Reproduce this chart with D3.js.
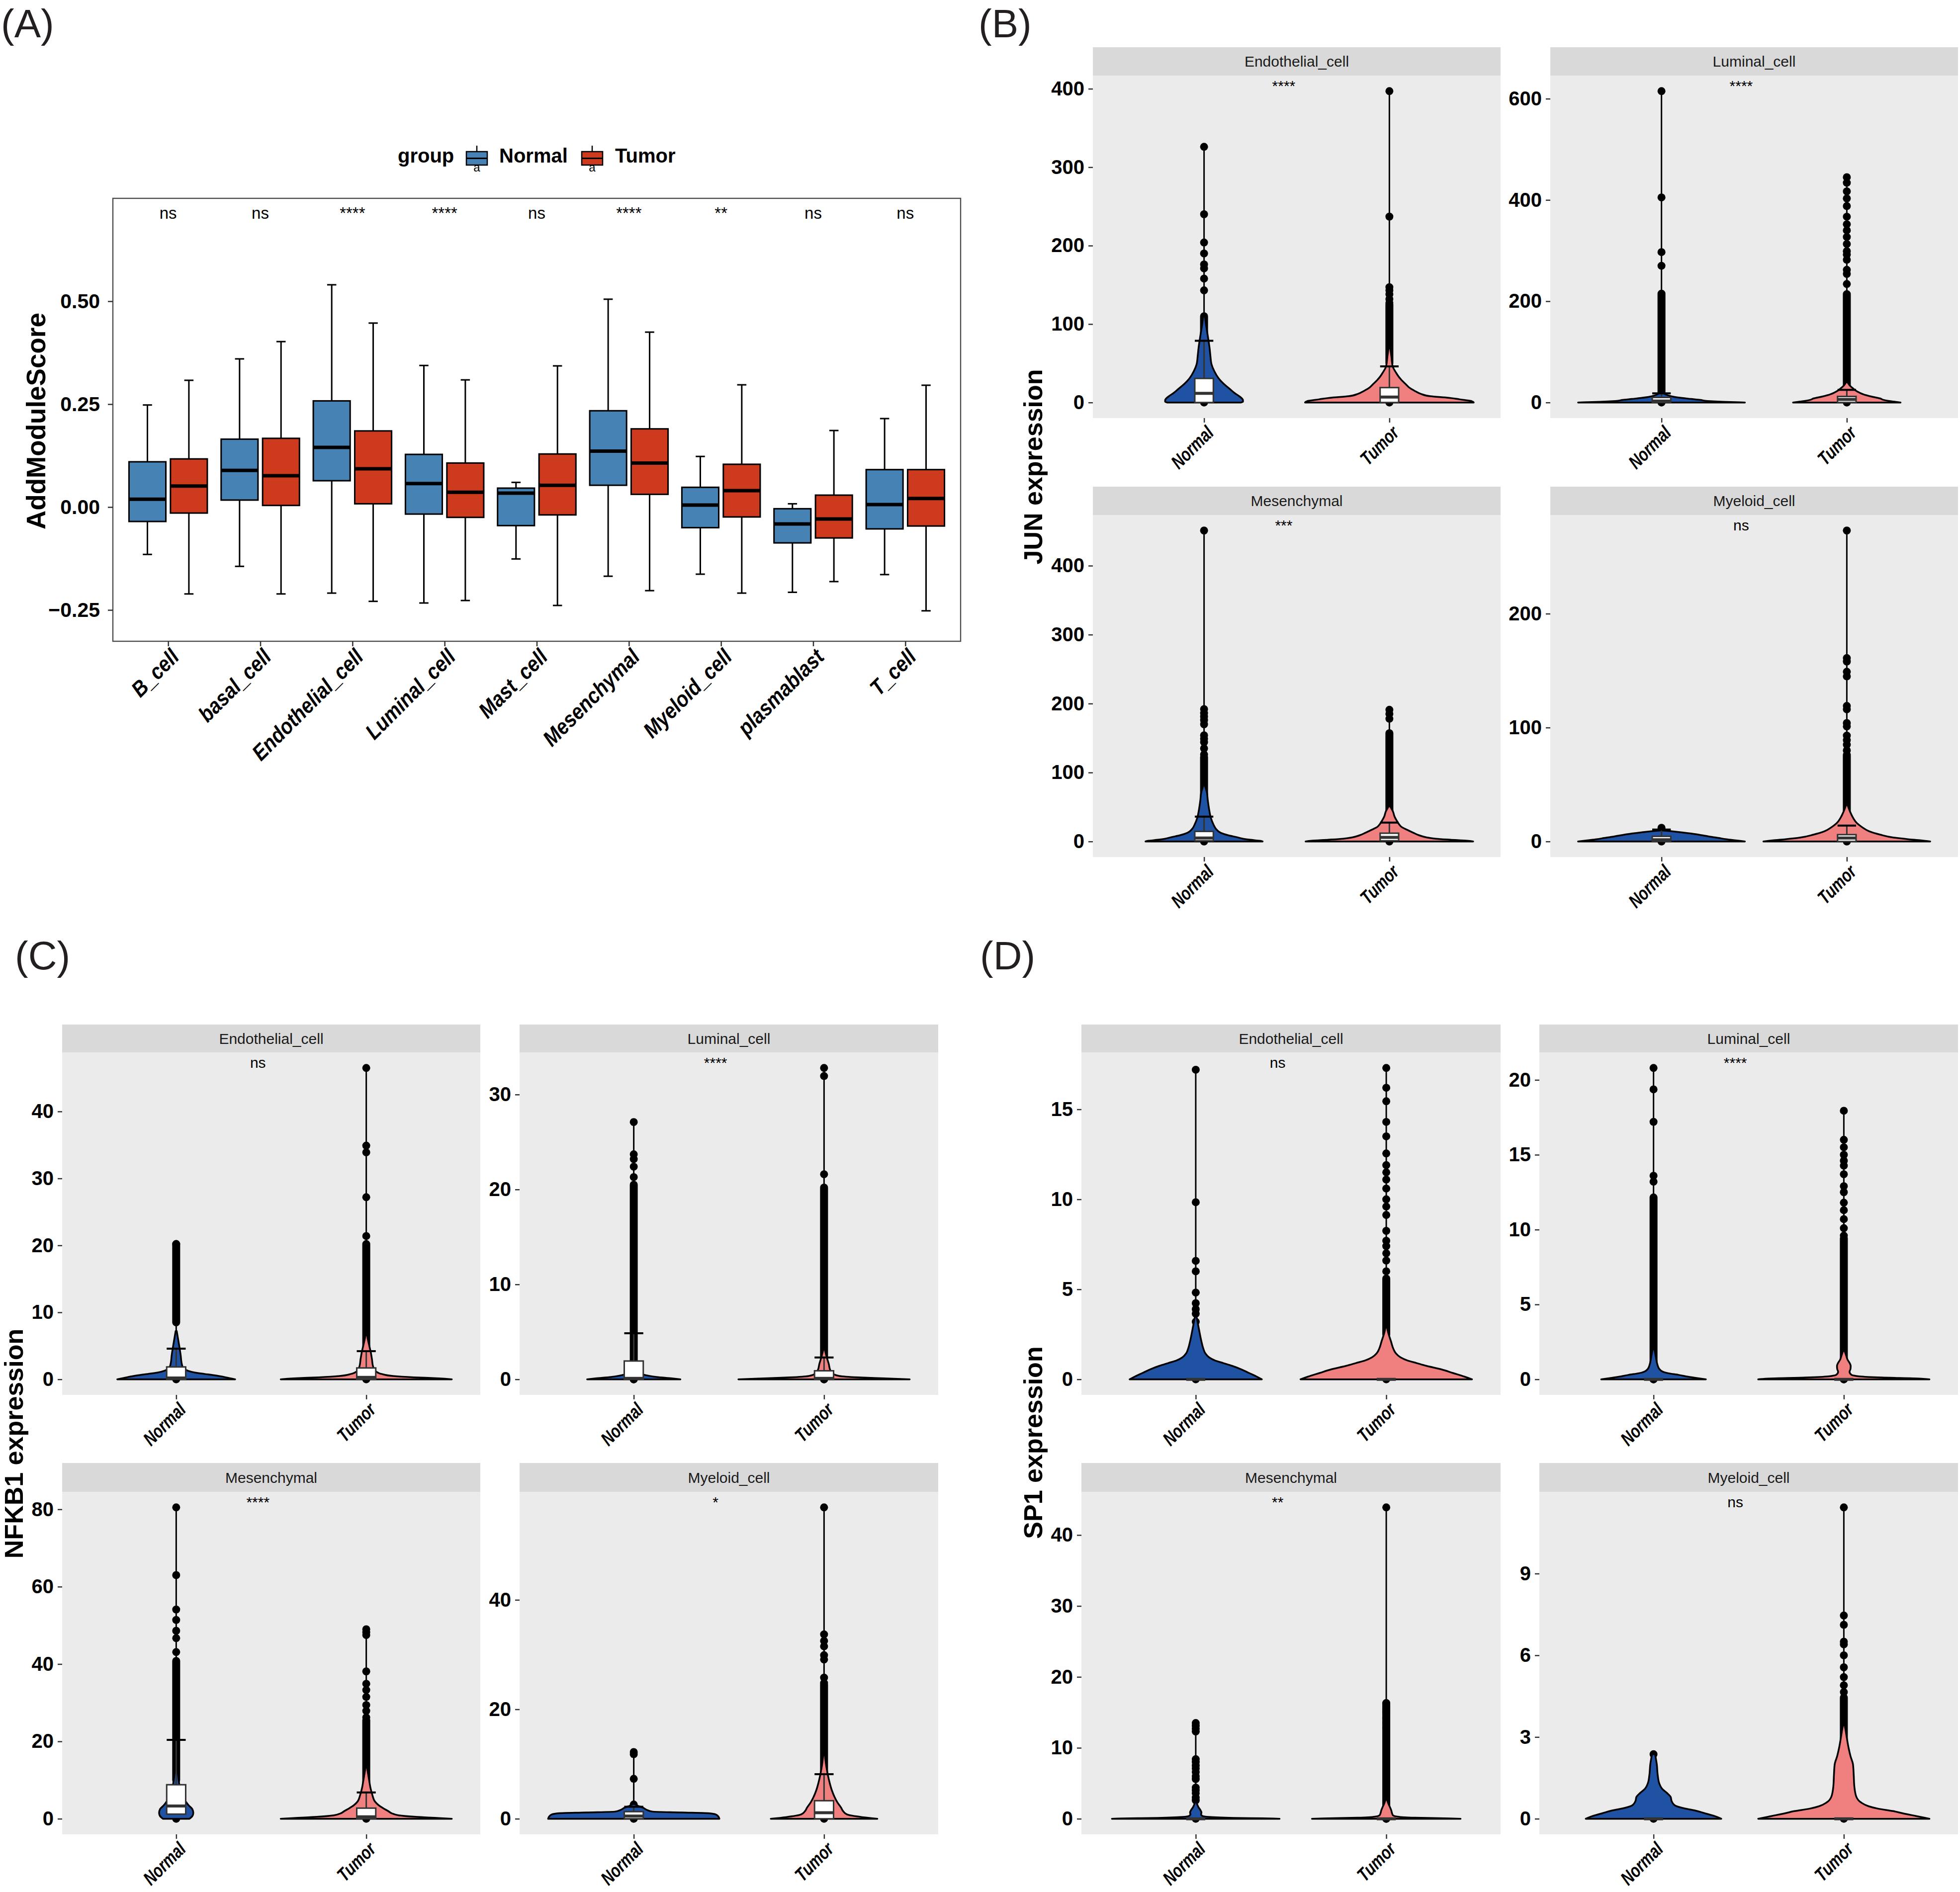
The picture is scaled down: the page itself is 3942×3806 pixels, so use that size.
<!DOCTYPE html>
<html><head><meta charset="utf-8">
<script src="https://cdn.jsdelivr.net/npm/d3@7"></script>
<style>html,body{margin:0;padding:0;background:#fff;}svg{display:block;}</style>
</head><body>
<script>
// ================= DATA =================
// ---- Panel A ----
const cellTypes = ["B_cell","basal_cell","Endothelial_cell","Luminal_cell","Mast_cell","Mesenchymal","Myeloid_cell","plasmablast","T_cell"];
const groups = ["Normal","Tumor"];
const yTicksA = [-0.25, 0, 0.25, 0.5];
// [lower whisker, q1, median, q3, upper whisker]
const normalBoxA = [
  [-0.115,-0.035,0.019,0.110,0.248],
  [-0.144,0.017,0.089,0.165,0.360],
  [-0.209,0.064,0.145,0.258,0.540],
  [-0.233,-0.017,0.057,0.128,0.344],
  [-0.126,-0.045,0.034,0.046,0.060],
  [-0.168,0.053,0.136,0.234,0.505],
  [-0.163,-0.050,0.005,0.048,0.123],
  [-0.207,-0.087,-0.041,-0.004,0.008],
  [-0.164,-0.053,0.006,0.091,0.215]
];
const tumorBoxA = [
  [-0.211,-0.0145,0.051,0.117,0.308],
  [-0.211,0.004,0.076,0.167,0.402],
  [-0.229,0.008,0.093,0.185,0.447],
  [-0.227,-0.025,0.036,0.107,0.309],
  [-0.239,-0.019,0.053,0.129,0.343],
  [-0.203,0.031,0.107,0.190,0.425],
  [-0.209,-0.024,0.040,0.104,0.297],
  [-0.181,-0.075,-0.029,0.029,0.186],
  [-0.252,-0.046,0.021,0.091,0.296]
];
const sigA = ["ns","ns","****","****","ns","****","**","ns","ns"];

// ---- Panels B-D (facets) ----
const facetNames = ["Endothelial_cell","Luminal_cell","Mesenchymal","Myeloid_cell"];

// JUN (B)
const junSig = ["****","****","***","ns"];
const junTicks = [[0,100,200,300,400],[0,200,400,600],[0,100,200,300,400],[0,100,200]];
// violin outline: [value, half-width in category units]
const junNormalShape = [
  [[0,0.2],[1,0.21],[3,0.21],[8,0.19],[12,0.165],[17,0.14],[24,0.105],[31,0.078],[40,0.055],[49,0.04],[60,0.034],[69,0.03],[85,0.02],[100,0.01],[113,0.003]],
  [[0,0.45],[0.5,0.42],[1.5,0.33],[3,0.25],[5,0.21],[7,0.16],[9,0.11],[11,0.07],[14,0.035],[18,0.012],[22,0.003]],
  [[0,0.316],[1,0.3],[2.5,0.25],[4,0.21],[6,0.18],[9,0.13],[12.5,0.09],[18,0.065],[25,0.05],[35,0.036],[47,0.027],[60,0.02],[70,0.016],[82,0.003]],
  [[0,0.45],[1,0.4],[2,0.35],[3,0.31],[4,0.27],[5,0.235],[6,0.2],[7,0.16],[8,0.11],[9,0.05],[9.6,0.01]]
];
const junTumorShape = [
  [[0,0.455],[1,0.45],[2,0.44],[4,0.38],[6,0.32],[8,0.22],[11,0.17],[15,0.135],[19,0.107],[23,0.09],[27,0.072],[33,0.05],[38,0.036],[46,0.018],[60,0.01],[70,0.004]],
  [[0,0.29],[1,0.27],[3,0.23],[5,0.2],[8,0.18],[12,0.13],[16,0.09],[22,0.055],[28,0.033],[34,0.015],[40,0.004]],
  [[0,0.452],[1,0.42],[2.5,0.33],[4,0.25],[6,0.2],[9,0.16],[12.5,0.13],[17,0.095],[21,0.066],[25,0.052],[30,0.04],[36,0.028],[43,0.02],[51,0.004]],
  [[0,0.45],[1,0.4],[2,0.33],[3.5,0.25],[6,0.18],[9,0.12],[12.5,0.083],[16,0.055],[21,0.033],[26,0.018],[32,0.004]]
];
const junNormalPoints = [
  [326,240,204,190,176,171,158,143,0],
  [615,405,297,270,0],
  [451,192,186,181,176,170,154,149,144,135,126,0],
  [12,11,0]
];
const junTumorPoints = [
  [397,237,147,143,138,132,127,0],
  [445,434,417,403,388,367,352,340,327,313,299,292,282,262,254,234,0],
  [191,185,178,0],
  [273,161,158,149,145,119,116,104,101,93,89,85,80,0]
];
const junNormalDense = [[[75,110]],[[15,215]],[[40,122]],[]];
const junTumorDense = [[[50,125]],[[20,214]],[[30,157]],[[20,76]]];
// [q1, median, q3, upper bar]
const junNormalBox = [[0,11.7,30.7,78.7],[0,3,10,18],[1,5,14.6,36],[0,1.5,4.5,10.5]];
const junTumorBox = [[0,7,19,46],[0,6,12,25],[1,6,12,27.4],[0,3,6,14]];

// NFKB1 (C)
const nfkbSig = ["ns","****","****","*"];
const nfkbTicks = [[0,10,20,30,40],[0,10,20,30],[0,20,40,60,80],[0,20,40]];
const nfkbNormalShape = [
  [[0,0.31],[0.3,0.26],[0.6,0.2],[0.8,0.15],[1.0,0.1],[1.3,0.06],[1.8,0.035],[2.5,0.028],[3.5,0.024],[5,0.016],[6,0.01],[7.2,0.003]],
  [[0,0.245],[0.1,0.2],[0.25,0.12],[0.5,0.05],[0.8,0.025],[1.2,0.015],[2,0.008],[3,0.003]],
  [[0,0.07],[0.7,0.085],[1.5,0.09],[2.5,0.085],[3.5,0.065],[4.5,0.05],[6,0.032],[8,0.02],[10,0.013],[13,0.006],[15,0.002]],
  [[0,0.45],[0.4,0.445],[0.8,0.43],[1.0,0.4],[1.15,0.25],[1.3,0.1],[1.6,0.07],[2.0,0.05],[2.4,0.02],[2.7,0.005]]
];
const nfkbTumorShape = [
  [[0,0.45],[0.15,0.38],[0.3,0.25],[0.5,0.14],[0.8,0.08],[1.2,0.05],[2,0.035],[3,0.03],[4,0.024],[5,0.016],[6,0.008],[7,0.002]],
  [[0,0.45],[0.08,0.35],[0.2,0.18],[0.35,0.08],[0.6,0.045],[1,0.032],[1.6,0.025],[2.2,0.016],[2.8,0.008],[3.3,0.002]],
  [[0,0.45],[0.2,0.38],[0.5,0.26],[0.9,0.17],[1.4,0.135],[2,0.115],[2.7,0.09],[3.5,0.065],[4.5,0.045],[6,0.033],[8,0.022],[10,0.015],[12,0.008],[14,0.002]],
  [[0,0.28],[0.3,0.2],[0.8,0.12],[1.4,0.1],[2,0.09],[3,0.07],[4,0.055],[5.3,0.04],[6.5,0.03],[8,0.02],[10,0.01],[12.5,0.002]]
];
const nfkbNormalPoints = [[20.2,0],[27.1,23.7,23.2,22.4,21.3,0],[80.5,63,54.1,51.4,48.6,46.7,43.1,0],[12.2,11.8,7.3,2.6,0]];
const nfkbTumorPoints = [[46.5,34.9,33.9,27.2,21.4,0],[32.8,31.95,21.6,0],[49,48.2,47.5,38.1,34.9,33.3,31.5,29.4,27.9,26.2,0],[56.9,33.7,32.5,31.5,29.9,29.1,25.8,24.8,0]];
const nfkbNormalDense = [[[8.5,20.2]],[[0,20.5]],[[10,40.8]],[]];
const nfkbTumorDense = [[[5,20.2]],[[0,20.2]],[[3,25.5]],[[4,24.5]]];
const nfkbNormalBox = [[0,0.2,1.85,4.57],[0,0.1,1.93,4.85],[1.2,3.3,8.8,20.4],[0,0.5,1.3,2.2]];
const nfkbTumorBox = [[0,0.3,1.7,4.2],[0,0.1,0.9,2.3],[0,0.5,2.75,6.8],[0,1.1,3.3,8.15]];

// SP1 (D)
const sp1Sig = ["ns","****","**","ns"];
const sp1Ticks = [[0,5,10,15],[0,5,10,15,20],[0,10,20,30,40],[0,3,6,9]];
const sp1NormalShape = [
  [[0,0.347],[0.15,0.32],[0.35,0.28],[0.55,0.24],[0.75,0.19],[0.9,0.145],[1.05,0.1],[1.22,0.07],[1.45,0.05],[1.7,0.04],[2.1,0.03],[2.5,0.022],[3,0.013],[3.5,0.004]],
  [[0,0.275],[0.1,0.22],[0.2,0.17],[0.3,0.13],[0.4,0.08],[0.5,0.05],[0.7,0.03],[1,0.02],[1.5,0.012],[2,0.005]],
  [[0,0.44],[0.05,0.38],[0.12,0.2],[0.25,0.07],[0.4,0.035],[0.6,0.028],[0.9,0.03],[1.2,0.025],[1.6,0.015],[2.0,0.008],[2.5,0.002]],
  [[0,0.356],[0.1,0.32],[0.2,0.27],[0.3,0.22],[0.4,0.15],[0.5,0.11],[0.65,0.095],[0.8,0.09],[0.95,0.07],[1.1,0.045],[1.3,0.03],[1.6,0.022],[2,0.017],[2.37,0.008]]
];
const sp1TumorShape = [
  [[0,0.45],[0.15,0.41],[0.35,0.35],[0.55,0.29],[0.75,0.21],[0.9,0.16],[1.05,0.11],[1.22,0.075],[1.45,0.05],[1.7,0.037],[2.1,0.025],[2.6,0.01],[3,0.002]],
  [[0,0.45],[0.05,0.4],[0.12,0.2],[0.2,0.08],[0.3,0.04],[0.5,0.03],[0.7,0.035],[0.9,0.036],[1.1,0.03],[1.3,0.02],[1.6,0.012],[1.9,0.004]],
  [[0,0.39],[0.05,0.33],[0.15,0.15],[0.3,0.06],[0.5,0.035],[0.8,0.03],[1.2,0.026],[1.6,0.02],[2,0.013],[2.5,0.006],[2.9,0.002]],
  [[0,0.45],[0.1,0.38],[0.2,0.31],[0.28,0.26],[0.37,0.18],[0.46,0.13],[0.6,0.09],[0.82,0.065],[1.2,0.055],[1.6,0.052],[2.0,0.048],[2.3,0.035],[2.6,0.025],[3.0,0.015],[3.3,0.008],[3.5,0.002]]
];
const sp1NormalPoints = [[17.2,9.84,6.58,6.0,4.82,4.23,3.9,3.65,3.2,0],[20.8,19.37,17.2,13.6,13.2,0],[13.5,13.1,12.7,12.3,8.4,8.0,7.5,7.1,6.6,6.0,5.6,4.4,4.0,3.6,3.0,2.6,0],[2.37,0]];
const sp1TumorPoints = [[17.3,16.2,15.45,14.3,13.5,12.55,11.9,11.5,11.1,10.6,10.0,9.6,9.13,8.25,7.7,7.4,7.0,6.6,6.0,0],[17.94,16.0,15.5,15.0,14.6,14.27,13.7,12.9,12.5,11.8,11.3,10.7,10.1,9.6,0],[43.9,16.3,15.5,15.0,14.2,13.5,12.8,0],[11.43,7.46,7.12,6.5,6.4,6.0,5.56,5.2,4.9,4.65,0]];
const sp1NormalDense = [[],[[0,12.15]],[],[]];
const sp1TumorDense = [[[2.5,5.6]],[[0,9.4]],[[0,16.3]],[[2.6,4.45]]];
const sp1NormalBox = [[0,0,0,0],[0,0,0,0],[0,0,0,0],[0,0,0,0]];
const sp1TumorBox = [[0,0,0,0],[0,0,0,0],[0,0,0,0],[0,0,0,0]];

// ================= DRAWING =================
const FONT = "'Liberation Sans', Arial, Helvetica, sans-serif";
const W = 3942, H = 3806;
const svg = d3.select("body").append("svg").attr("width", W).attr("height", H)
  .style("font-family", FONT);
svg.append("rect").attr("width", W).attr("height", H).attr("fill", "#fff");

function panelLabel(txt, x, y) {
  svg.append("text").attr("x", x).attr("y", y).attr("font-size", 80).attr("fill", "#231f20").text(txt);
}
panelLabel("(A)", 2, 75);
panelLabel("(B)", 1968, 75);
panelLabel("(C)", 30, 1950);
panelLabel("(D)", 1971, 1950);

// ---------- Panel A ----------
(function () {
  const L = 227, R = 1932, T = 399, B = 1290;
  const colA = ["#4682B4", "#CD3A1D"];
  const x = d3.scalePoint().domain(cellTypes).range([L, R]).padding(0.6);
  const y = d3.scaleLinear().domain([-0.326, 0.75]).range([B, T]);
  const step = x.step();
  const g = svg.append("g");
  [normalBoxA, tumorBoxA].forEach((arr, gi) => {
    const off = (gi === 0 ? -1 : 1) * 0.225 * step;
    const bw = 0.4 * step;
    arr.forEach((s, i) => {
      const cx = x(cellTypes[i]) + off;
      g.append("line").attr("x1", cx).attr("x2", cx).attr("y1", y(s[0])).attr("y2", y(s[1])).attr("stroke", "#000").attr("stroke-width", 3);
      g.append("line").attr("x1", cx).attr("x2", cx).attr("y1", y(s[3])).attr("y2", y(s[4])).attr("stroke", "#000").attr("stroke-width", 3);
      [s[0], s[4]].forEach(v => g.append("line").attr("x1", cx - 0.05 * step).attr("x2", cx + 0.05 * step)
        .attr("y1", y(v)).attr("y2", y(v)).attr("stroke", "#000").attr("stroke-width", 3));
      g.append("rect").attr("x", cx - bw / 2).attr("width", bw).attr("y", y(s[3])).attr("height", y(s[1]) - y(s[3]))
        .attr("fill", colA[gi]).attr("stroke", "#000").attr("stroke-width", 3);
      g.append("line").attr("x1", cx - bw / 2).attr("x2", cx + bw / 2).attr("y1", y(s[2])).attr("y2", y(s[2]))
        .attr("stroke", "#000").attr("stroke-width", 7);
    });
  });
  sigA.forEach((s, i) => {
    g.append("text").attr("x", x(cellTypes[i])).attr("y", y(0.70)).attr("text-anchor", "middle")
      .attr("font-size", 33).attr("fill", "#000").text(s);
  });
  g.append("rect").attr("x", L).attr("y", T).attr("width", R - L).attr("height", B - T)
    .attr("fill", "none").attr("stroke", "#4d4d4d").attr("stroke-width", 2.4);
  const ay = g.append("g").attr("transform", `translate(${L},0)`)
    .call(d3.axisLeft(y).tickValues(yTicksA).tickFormat(d3.format(".2f")).tickSize(10).tickPadding(16));
  ay.select(".domain").remove();
  ay.selectAll("line").attr("stroke", "#333").attr("stroke-width", 2.5);
  ay.selectAll("text").attr("font-size", 41).attr("font-weight", "bold").attr("fill", "#000").attr("font-family", FONT);
  const ax = g.append("g").attr("transform", `translate(0,${B})`).call(d3.axisBottom(x).tickSize(10));
  ax.select(".domain").remove();
  ax.selectAll("line").attr("stroke", "#333").attr("stroke-width", 2.5);
  ax.selectAll("text").attr("font-size", 44).attr("font-weight", "bold").attr("font-style", "italic")
    .attr("fill", "#000").attr("font-family", FONT).attr("text-anchor", "end")
    .attr("x", 0).attr("y", 0).attr("dy", "0.71em").attr("transform", "translate(2,12) rotate(-45) scale(0.88,1)");
  g.append("text").attr("transform", "translate(72,847) rotate(-90)").attr("text-anchor", "middle").attr("dy", "0.36em")
    .attr("font-size", 53).attr("font-weight", "bold").attr("fill", "#000").text("AddModuleScore");
  // legend
  const ly = 327;
  g.append("text").attr("x", 800).attr("y", ly).attr("font-size", 40).attr("font-weight", "bold").text("group");
  const keys = [[938, "Normal", 1004], [1170, "Tumor", 1237]];
  keys.forEach(([kx, lab, tx], gi) => {
    const cx = kx + 21;
    g.append("line").attr("x1", cx).attr("x2", cx).attr("y1", 293).attr("y2", 305).attr("stroke", "#000").attr("stroke-width", 2.5);
    g.append("rect").attr("x", kx).attr("y", 305).attr("width", 42).attr("height", 27).attr("fill", colA[gi]).attr("stroke", "#000").attr("stroke-width", 2.5);
    g.append("line").attr("x1", kx).attr("x2", kx + 42).attr("y1", 318.5).attr("y2", 318.5).attr("stroke", "#000").attr("stroke-width", 3);
    g.append("text").attr("x", cx).attr("y", 345).attr("text-anchor", "middle").attr("font-size", 24).attr("fill", "#000").text("a");
    g.append("text").attr("x", tx).attr("y", ly).attr("font-size", 40).attr("font-weight", "bold").text(lab);
  });
})();

// ---------- Violin facet grids ----------
const violinColors = ["#1F52A3", "#F08080"];
function drawGrid(cfg) {
  const sets = [cfg.normal, cfg.tumor];
  facetNames.forEach((name, i) => {
    const [x0, x1] = cfg.cols[i % 2];
    const [sTop, pTop, pBot] = cfg.rows[Math.floor(i / 2)];
    const M = d3.max(sets.flatMap(s => s.points[i]));
    const x = d3.scalePoint().domain(groups).range([x0, x1]).padding(0.6);
    const step = x.step();
    const y = d3.scaleLinear().domain([-0.05 * M, 1.05 * M]).range([pBot, pTop]);
    const g = svg.append("g");
    g.append("rect").attr("x", x0).attr("y", sTop).attr("width", x1 - x0).attr("height", pTop - sTop).attr("fill", "#D9D9D9");
    g.append("text").attr("x", (x0 + x1) / 2).attr("y", (sTop + pTop) / 2).attr("dy", "0.35em").attr("text-anchor", "middle")
      .attr("font-size", 30).attr("fill", "#1A1A1A").text(name);
    g.append("rect").attr("x", x0).attr("y", pTop).attr("width", x1 - x0).attr("height", pBot - pTop).attr("fill", "#EBEBEB");
    const clip = "clip" + cfg.id + i;
    g.append("clipPath").attr("id", clip).append("rect").attr("x", x0).attr("y", pTop).attr("width", x1 - x0).attr("height", pBot - pTop);
    const gp = g.append("g").attr("clip-path", `url(#${clip})`);
    sets.forEach((s, gi) => {
      const cx = x(groups[gi]);
      const pts = s.points[i];
      const top = d3.max(pts);
      gp.append("line").attr("x1", cx).attr("x2", cx).attr("y1", y(0)).attr("y2", y(top)).attr("stroke", "#000").attr("stroke-width", 3);
      s.dense[i].forEach(([lo, hi]) => {
        gp.append("line").attr("x1", cx).attr("x2", cx).attr("y1", y(lo)).attr("y2", y(hi))
          .attr("stroke", "#000").attr("stroke-width", 16).attr("stroke-linecap", "round");
      });
      gp.selectAll(null).data(pts).enter().append("circle").attr("cx", cx).attr("cy", d => y(d)).attr("r", 8).attr("fill", "#000");
      const area = d3.area().curve(d3.curveMonotoneY)
        .y(d => y(d[0])).x0(d => cx - d[1] * step).x1(d => cx + d[1] * step);
      gp.append("path").attr("d", area(s.shape[i])).attr("fill", violinColors[gi]).attr("stroke", "#000")
        .attr("stroke-width", 3.5).attr("stroke-linejoin", "round");
      const [q1, med, q3, cap] = s.box[i];
      const bw = 0.1 * step;
      if (cap > q3) {
        gp.append("line").attr("x1", cx).attr("x2", cx).attr("y1", y(q3)).attr("y2", y(cap)).attr("stroke", "#333").attr("stroke-width", 3);
        gp.append("line").attr("x1", cx - bw / 2).attr("x2", cx + bw / 2).attr("y1", y(cap)).attr("y2", y(cap)).attr("stroke", "#000").attr("stroke-width", 4);
      }
      gp.append("rect").attr("x", cx - bw / 2).attr("width", bw).attr("y", y(q3)).attr("height", Math.max(0, y(q1) - y(q3)))
        .attr("fill", "#fff").attr("stroke", "#333").attr("stroke-width", 3);
      gp.append("line").attr("x1", cx - bw / 2).attr("x2", cx + bw / 2).attr("y1", y(med)).attr("y2", y(med)).attr("stroke", "#333").attr("stroke-width", 6);
    });
    // significance label
    g.append("text").attr("x", x("Normal") + 0.43 * step).attr("y", y(M)).attr("text-anchor", "middle")
      .attr("font-size", 30).attr("fill", "#000").text(cfg.sig[i]);
    // axes
    const ay = g.append("g").attr("transform", `translate(${x0},0)`)
      .call(d3.axisLeft(y).tickValues(cfg.ticks[i]).tickFormat(d3.format("d")).tickSize(9).tickPadding(8));
    ay.select(".domain").remove();
    ay.selectAll("line").attr("stroke", "#333").attr("stroke-width", 2.5);
    ay.selectAll("text").attr("font-size", 40).attr("font-weight", "bold").attr("fill", "#000").attr("font-family", FONT);
    const ax = g.append("g").attr("transform", `translate(0,${pBot})`).call(d3.axisBottom(x).tickSize(9));
    ax.select(".domain").remove();
    ax.selectAll("line").attr("stroke", "#333").attr("stroke-width", 2.5);
    ax.selectAll("text").attr("font-size", 38).attr("font-weight", "bold").attr("font-style", "italic")
      .attr("fill", "#000").attr("font-family", FONT).attr("text-anchor", "end")
      .attr("x", 0).attr("y", 0).attr("dy", "0.71em").attr("transform", "translate(2,13) rotate(-45) scale(0.78,1)");
  });
  svg.append("text").attr("transform", `translate(${cfg.titleX},${cfg.titleY}) rotate(-90)`).attr("text-anchor", "middle")
    .attr("dy", "0.36em").attr("font-size", 52).attr("font-weight", "bold").attr("fill", "#000").text(cfg.title);
}

drawGrid({
  id: "B", cols: [[2198, 3018], [3118, 3938]], rows: [[95, 152, 841], [979, 1036, 1724]],
  sig: junSig, ticks: junTicks, title: "JUN expression", titleX: 2077, titleY: 939,
  normal: {shape: junNormalShape, points: junNormalPoints, dense: junNormalDense, box: junNormalBox},
  tumor: {shape: junTumorShape, points: junTumorPoints, dense: junTumorDense, box: junTumorBox}
});
drawGrid({
  id: "C", cols: [[125, 966], [1045, 1887]], rows: [[2061, 2117, 2806], [2943, 3001, 3690]],
  sig: nfkbSig, ticks: nfkbTicks, title: "NFKB1 expression", titleX: 27, titleY: 2904,
  normal: {shape: nfkbNormalShape, points: nfkbNormalPoints, dense: nfkbNormalDense, box: nfkbNormalBox},
  tumor: {shape: nfkbTumorShape, points: nfkbTumorPoints, dense: nfkbTumorDense, box: nfkbTumorBox}
});
drawGrid({
  id: "D", cols: [[2175, 3018], [3096, 3938]], rows: [[2061, 2117, 2806], [2943, 3001, 3690]],
  sig: sp1Sig, ticks: sp1Ticks, title: "SP1 expression", titleX: 2077, titleY: 2902,
  normal: {shape: sp1NormalShape, points: sp1NormalPoints, dense: sp1NormalDense, box: sp1NormalBox},
  tumor: {shape: sp1TumorShape, points: sp1TumorPoints, dense: sp1TumorDense, box: sp1TumorBox}
});
</script>
</body></html>
